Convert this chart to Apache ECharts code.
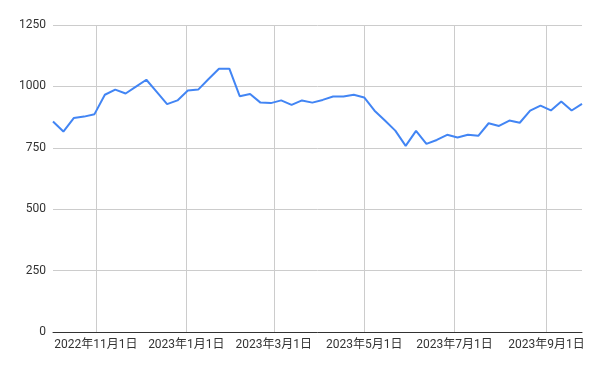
<!DOCTYPE html>
<html>
<head>
<meta charset="utf-8">
<script src="https://cdn.jsdelivr.net/npm/echarts@6/dist/echarts.min.js"></script>
<style>
html,body{margin:0;padding:0;background:#fff;}
#chart{width:600px;height:371px;}
</style>
</head>
<body>
<div id="chart"></div>
<script>
const dates = [
  '2022-10-03','2022-10-10','2022-10-17','2022-10-24','2022-10-31',
  '2022-11-07','2022-11-14','2022-11-21','2022-11-28',
  '2022-12-05','2022-12-12','2022-12-19','2022-12-26',
  '2023-01-02','2023-01-09','2023-01-16','2023-01-23','2023-01-30',
  '2023-02-06','2023-02-13','2023-02-20','2023-02-27',
  '2023-03-06','2023-03-13','2023-03-20','2023-03-27',
  '2023-04-03','2023-04-10','2023-04-17','2023-04-24',
  '2023-05-01','2023-05-08','2023-05-15','2023-05-22','2023-05-29',
  '2023-06-05','2023-06-12','2023-06-19','2023-06-26',
  '2023-07-03','2023-07-10','2023-07-17','2023-07-24','2023-07-31',
  '2023-08-07','2023-08-14','2023-08-21','2023-08-28',
  '2023-09-04','2023-09-11','2023-09-18','2023-09-25'
];
const values = [
  857, 816, 871, 877, 887, 966, 987, 971, 999, 1027,
  978, 928, 943, 983, 987, 1030, 1072, 1072, 960, 969,
  934, 932, 943, 925, 943, 934, 945, 959, 959, 966,
  955, 901, 861, 820, 758, 819, 766, 782, 803, 792,
  803, 799, 850, 839, 861, 852, 901, 922, 902, 939,
  902, 929
];
const xTicks = ['2022-11-01','2023-01-01','2023-03-01','2023-05-01','2023-07-01','2023-09-01'];
const yTicks = [0, 250, 500, 750, 1000, 1250];

const toTs = s => echarts.number.parseDate(s).getTime();
const seriesData = dates.map((d, i) => [toTs(d), values[i]]);
const tickTs = xTicks.map(toTs);

const chart = echarts.init(document.getElementById('chart'), null, {renderer: 'canvas'});
const fontFamily = 'Roboto, "Noto Sans CJK JP", sans-serif';
chart.setOption({
  animation: false,
  backgroundColor: '#ffffff',
  grid: {left: 53, right: 18, top: 25, bottom: 39, containLabel: false},
  xAxis: {
    type: 'value',
    min: toTs(dates[0]),
    max: toTs(dates[dates.length - 1]),
    scale: true,
    axisLine: {show: true, onZero: false, lineStyle: {color: '#333333', width: 1}},
    axisTick: {show: false, customValues: tickTs},
    axisLabel: {
      customValues: tickTs,
      margin: 7,
      color: '#333333',
      fontSize: 12,
      fontFamily: fontFamily,
      formatter: function (v) {
        const d = new Date(v);
        return d.getFullYear() + '年' + (d.getMonth() + 1) + '月' + d.getDate() + '日';
      }
    },
    splitLine: {show: true, lineStyle: {color: '#cccccc', width: 1}}
  },
  yAxis: {
    type: 'value',
    min: yTicks[0],
    max: yTicks[yTicks.length - 1],
    interval: yTicks[1] - yTicks[0],
    axisLine: {show: false},
    axisTick: {show: false},
    axisLabel: {
      margin: 7, color: '#333333', fontSize: 12, fontFamily: fontFamily,
      formatter: function (v) { return String(v); }
    },
    splitLine: {show: true, lineStyle: {color: '#cccccc', width: 1}}
  },
  series: [{
    type: 'line',
    data: seriesData,
    showSymbol: false,
    symbol: 'none',
    lineStyle: {color: '#4285f4', width: 2},
    itemStyle: {color: '#4285f4'}
  }]
});
</script>
</body>
</html>
